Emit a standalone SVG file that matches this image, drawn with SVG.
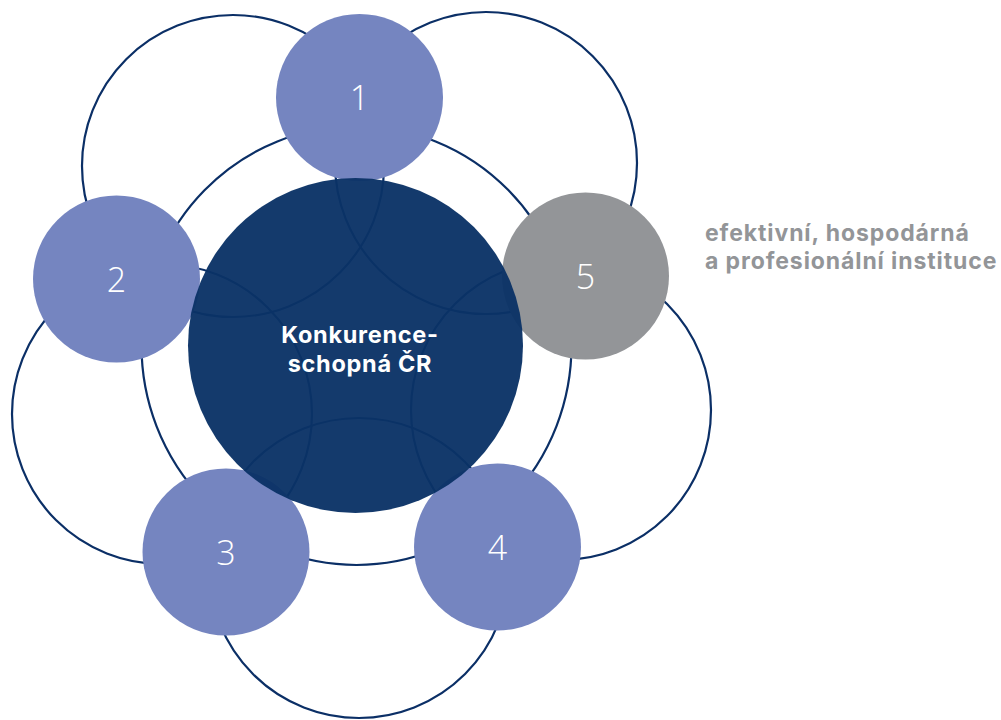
<svg xmlns="http://www.w3.org/2000/svg" width="1001" height="720" viewBox="0 0 1001 720">
<style>
.ring{fill:none;stroke:#0b2f66;stroke-width:2.2}
.num{fill:#7585c0}
.grey{fill:#939598}
.lbl{font-family:"Open Sans","Liberation Sans",sans-serif;font-weight:300;font-size:34px;fill:#ffffff;text-anchor:middle}
.ctr{font-family:"Inter","Open Sans",sans-serif;font-weight:700;font-size:23.5px;letter-spacing:0.7px;fill:#ffffff;text-anchor:middle}
.side{font-family:"Inter","Open Sans",sans-serif;font-weight:700;font-size:23px;letter-spacing:0.9px;fill:#939598}
</style>
<g id="connectors">
<ellipse class="ring" cx="356.5" cy="345.5" rx="215" ry="219.5"/>
<circle class="ring" cx="233" cy="166" r="151"/>
<circle class="ring" cx="486" cy="163" r="151"/>
<circle class="ring" cx="162" cy="414" r="150"/>
<circle class="ring" cx="359" cy="568" r="150"/>
<circle class="ring" cx="561" cy="410" r="150"/>
</g>
<g id="n1"><circle class="num" cx="359.5" cy="97.5" r="83.5"/><text class="lbl" x="359.5" y="110">1</text></g>
<g id="n2"><circle class="num" cx="116.5" cy="279" r="83.5"/><text class="lbl" x="116.5" y="291.5">2</text></g>
<g id="n3"><circle class="num" cx="226" cy="552" r="83.5"/><text class="lbl" x="226" y="564.5">3</text></g>
<g id="n4"><circle class="num" cx="497.5" cy="547" r="83.5"/><text class="lbl" x="497.5" y="559.5">4</text></g>
<g id="n5"><circle class="grey" cx="585.5" cy="276" r="83.5"/><text class="lbl" x="585.5" y="288.5">5</text></g>
<g id="center">
<circle cx="355.5" cy="345.5" r="167.5" fill="#0a3266" fill-opacity="0.96"/>
<text class="ctr" x="360" y="343"><tspan x="360" y="343">Konkurence-</tspan><tspan x="360" y="372">schopná ČR</tspan></text>
</g>
<g id="label5">
<text class="side" x="705" y="241"><tspan x="705" y="241">efektivní, hospodárná</tspan><tspan x="705" y="269">a profesionální instituce</tspan></text>
</g>
</svg>
